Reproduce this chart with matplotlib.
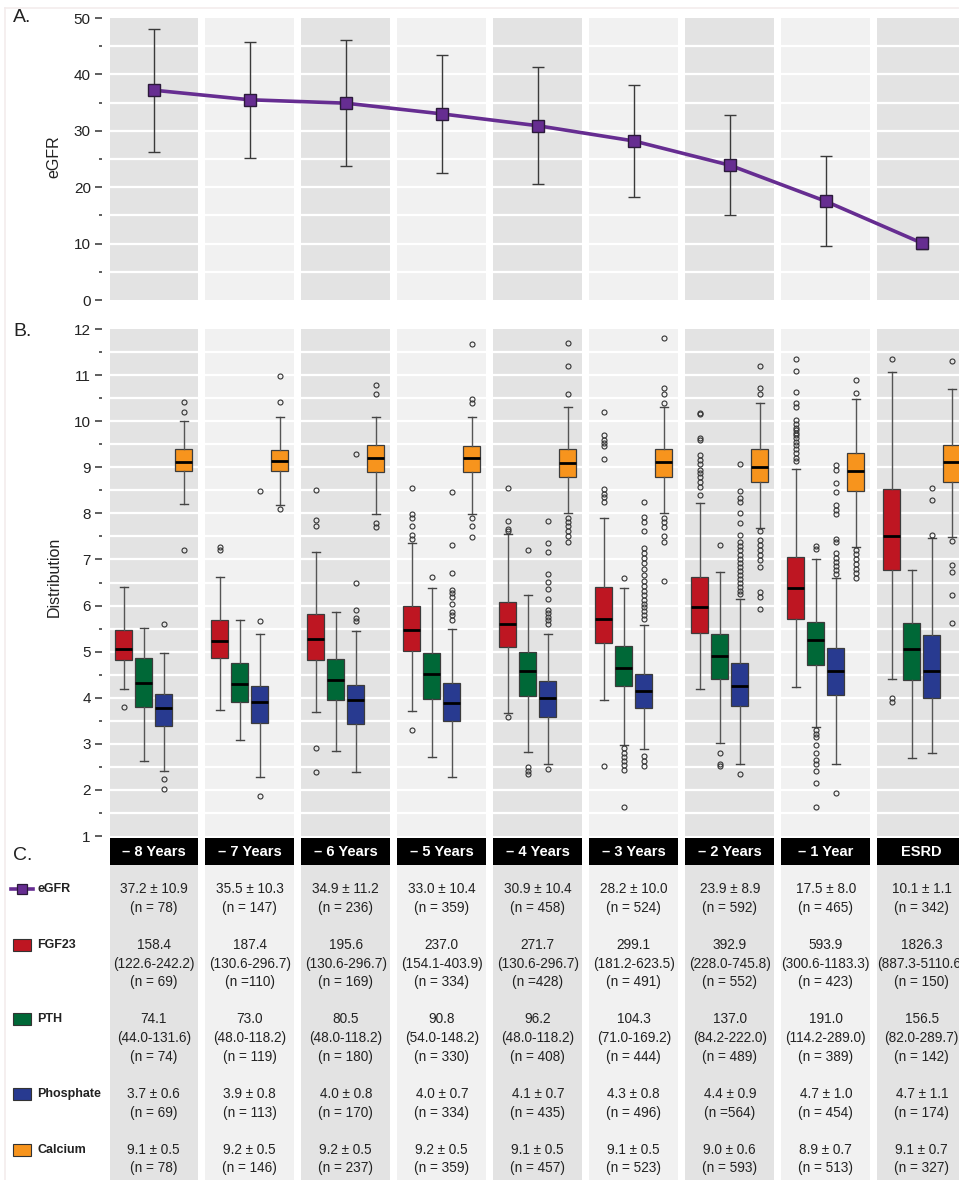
import numpy as np
import matplotlib
matplotlib.use("Agg")
import matplotlib.pyplot as plt
from matplotlib import font_manager
from matplotlib.patches import Rectangle
from matplotlib.lines import Line2D
from matplotlib.transforms import blended_transform_factory

plt.rcParams['font.family'] = ['Liberation Sans', 'DejaVu Sans']

# condensed face for the table cells, if the narrow family is present
installed = {f.name for f in font_manager.fontManager.ttflist}
if 'Liberation Sans Narrow' in installed:
    CELL_FONT, CELL_SIZE, LABEL_SIZE = ['Liberation Sans Narrow', 'Liberation Sans'], 11.5, 11
else:
    CELL_FONT, CELL_SIZE, LABEL_SIZE = ['Liberation Sans', 'DejaVu Sans'], 9.8, 9

# ---- data ----
years = ['– 8 Years', '– 7 Years', '– 6 Years', '– 5 Years', '– 4 Years',
         '– 3 Years', '– 2 Years', '– 1 Year', 'ESRD']

egfr_mean = [37.2, 35.5, 34.9, 33.0, 30.9, 28.2, 23.9, 17.5, 10.1]
egfr_sd = [10.9, 10.3, 11.2, 10.4, 10.4, 10.0, 8.9, 8.0, 1.1]
egfr_n = ['(n = 78)', '(n = 147)', '(n = 236)', '(n = 359)', '(n = 458)',
          '(n = 524)', '(n = 592)', '(n = 465)', '(n = 342)']

fgf23_med = ['158.4', '187.4', '195.6', '237.0', '271.7', '299.1', '392.9', '593.9', '1826.3']
fgf23_iqr = ['(122.6-242.2)', '(130.6-296.7)', '(130.6-296.7)', '(154.1-403.9)', '(130.6-296.7)',
             '(181.2-623.5)', '(228.0-745.8)', '(300.6-1183.3)', '(887.3-5110.6)']
fgf23_n = ['(n = 69)', '(n =110)', '(n = 169)', '(n = 334)', '(n =428)',
           '(n = 491)', '(n = 552)', '(n = 423)', '(n = 150)']

pth_med = ['74.1', '73.0', '80.5', '90.8', '96.2', '104.3', '137.0', '191.0', '156.5']
pth_iqr = ['(44.0-131.6)', '(48.0-118.2)', '(48.0-118.2)', '(54.0-148.2)', '(48.0-118.2)',
           '(71.0-169.2)', '(84.2-222.0)', '(114.2-289.0)', '(82.0-289.7)']
pth_n = ['(n = 74)', '(n = 119)', '(n = 180)', '(n = 330)', '(n = 408)',
         '(n = 444)', '(n = 489)', '(n = 389)', '(n = 142)']

phos_mean = ['3.7 ± 0.6', '3.9 ± 0.8', '4.0 ± 0.8', '4.0 ± 0.7', '4.1 ± 0.7',
             '4.3 ± 0.8', '4.4 ± 0.9', '4.7 ± 1.0', '4.7 ± 1.1']
phos_n = ['(n = 69)', '(n = 113)', '(n = 170)', '(n = 334)', '(n = 435)',
          '(n = 496)', '(n =564)', '(n = 454)', '(n = 174)']

ca_mean = ['9.1 ± 0.5', '9.2 ± 0.5', '9.2 ± 0.5', '9.2 ± 0.5', '9.1 ± 0.5',
           '9.1 ± 0.5', '9.0 ± 0.6', '8.9 ± 0.7', '9.1 ± 0.7']
ca_n = ['(n = 78)', '(n = 146)', '(n = 237)', '(n = 359)', '(n = 457)',
        '(n = 523)', '(n = 593)', '(n = 513)', '(n = 327)']

# box stats per year: (whisker low, q1, median, q3, whisker high)
fgf23_box = [(4.20, 4.81, 5.06, 5.47, 6.40), (3.73, 4.87, 5.24, 5.68, 6.63),
             (3.69, 4.81, 5.27, 5.81, 7.16), (3.72, 5.01, 5.46, 5.98, 7.36),
             (3.66, 5.09, 5.60, 6.08, 7.55), (3.95, 5.19, 5.71, 6.41, 7.91),
             (4.18, 5.41, 5.97, 6.61, 8.23), (4.24, 5.70, 6.38, 7.06, 8.97),
             (4.40, 6.78, 7.51, 8.52, 11.06)]
fgf23_out = [[3.80], [7.20, 7.28], [8.50, 7.85, 7.73, 2.90, 2.38],
             [8.54, 7.99, 7.91, 7.72, 7.52, 7.45, 3.31],
             [8.54, 7.83, 7.67, 7.62, 3.58],
             [10.19, 9.71, 9.59, 9.52, 9.46, 9.18, 8.52, 8.43, 8.35, 8.25, 2.52],
             [10.18, 10.15, 9.63, 9.59, 9.26, 9.16, 9.07, 8.95, 8.87, 8.78, 8.69, 8.58, 8.40],
             [11.35, 11.09, 10.64, 10.39, 10.30, 10.02, 9.94, 9.86, 9.81, 9.75, 9.70,
              9.63, 9.55, 9.48, 9.39, 9.30, 9.21, 9.13],
             [11.35, 3.99, 3.91]]

pth_box = [(2.63, 3.79, 4.31, 4.86, 5.52), (3.09, 3.90, 4.29, 4.76, 5.69),
           (2.84, 3.94, 4.39, 4.85, 5.85), (2.71, 3.98, 4.51, 4.98, 6.38),
           (2.82, 4.04, 4.58, 5.00, 6.23), (2.98, 4.25, 4.65, 5.12, 6.38),
           (3.02, 4.41, 4.91, 5.38, 6.72), (3.37, 4.72, 5.25, 5.65, 7.00),
           (2.70, 4.39, 5.05, 5.63, 6.78)]
pth_out = [[], [], [], [6.63], [7.20, 2.50, 2.41, 2.34],
           [6.60, 2.90, 2.81, 2.72, 2.63, 2.53, 2.44, 1.63],
           [7.31, 2.79, 2.57, 2.52],
           [7.29, 7.22, 3.31, 3.22, 3.15, 2.97, 2.79, 2.64, 2.57, 2.41, 2.15, 1.63],
           []]

phos_box = [(2.40, 3.39, 3.77, 4.09, 4.98), (2.29, 3.45, 3.90, 4.25, 5.39),
            (2.39, 3.44, 3.95, 4.28, 5.45), (2.28, 3.49, 3.89, 4.31, 5.50),
            (2.57, 3.58, 4.00, 4.37, 5.39), (2.88, 3.78, 4.15, 4.51, 5.57),
            (2.57, 3.82, 4.26, 4.76, 6.15), (2.56, 4.07, 4.58, 5.08, 6.60),
            (2.80, 4.00, 4.59, 5.37, 7.47)]
phos_out = [[5.60, 2.24, 2.03], [8.48, 5.67, 1.86], [9.28, 6.48, 5.90, 5.73, 5.66],
            [8.46, 7.31, 6.71, 6.33, 6.27, 6.19, 6.04, 5.87, 5.79, 5.69],
            [7.83, 7.35, 7.17, 6.68, 6.51, 6.35, 6.15, 5.90, 5.83, 5.75, 5.68, 5.61, 2.45],
            [8.24, 7.93, 7.82, 7.61, 7.24, 7.14, 7.04, 6.93, 6.80, 6.66, 6.54, 6.42,
             6.32, 6.23, 6.13, 6.04, 5.96, 5.88, 5.80, 5.71, 2.73, 2.63, 2.51],
            [9.07, 8.48, 8.34, 8.25, 8.00, 7.80, 7.54, 7.38, 7.29, 7.20, 7.09, 7.00,
             6.93, 6.84, 6.75, 6.66, 6.57, 6.48, 6.41, 6.32, 6.25, 2.34],
            [9.05, 8.95, 8.65, 8.47, 8.18, 8.08, 7.98, 7.45, 7.38, 7.13, 7.04, 6.95,
             6.85, 6.77, 6.68, 1.93],
            [8.54, 8.29, 7.54]]

ca_box = [(8.20, 8.91, 9.12, 9.39, 10.00), (8.18, 8.91, 9.13, 9.38, 10.10),
          (7.99, 8.89, 9.21, 9.48, 10.09), (7.99, 8.89, 9.21, 9.47, 10.09),
          (8.00, 8.79, 9.10, 9.39, 10.30), (8.00, 8.79, 9.11, 9.39, 10.30),
          (7.69, 8.69, 9.01, 9.39, 10.40), (7.27, 8.48, 8.91, 9.30, 10.49),
          (7.49, 8.69, 9.11, 9.48, 10.70)]
ca_out = [[10.42, 10.20, 7.20], [10.98, 10.42, 8.10], [10.79, 10.60, 7.80, 7.70],
          [11.68, 10.49, 10.39, 7.91, 7.72, 7.49],
          [11.69, 11.20, 10.60, 7.91, 7.82, 7.72, 7.62, 7.51, 7.38],
          [11.80, 10.71, 10.60, 10.40, 7.91, 7.82, 7.71, 7.51, 7.38, 6.53],
          [11.20, 10.71, 10.60, 7.61, 7.42, 7.32, 7.20, 7.09, 6.98, 6.83, 6.30, 6.19, 5.93],
          [10.89, 10.62, 7.20, 7.12, 7.02, 6.91, 6.80, 6.70, 6.60],
          [11.31, 7.40, 6.88, 6.73, 6.22, 5.62]]

# ---- styling ----
W, H = 959, 1180
PURPLE = '#662d91'
RED, GREEN, BLUE, ORANGE = '#be1622', '#006837', '#283a90', '#f7941d'
SHADES = ['#e3e3e3', '#f1f1f1']
COLW = 0.927
x = np.arange(len(years))
x0 = (110 - 153.8) / 96
x1 = (W - 153.8) / 96


def fx(px):
    return px / W


def fy(py):
    return 1 - py / H


fig = plt.figure(figsize=(W / 100, H / 100), dpi=100)

# faint outer frame
fig.add_artist(Line2D([fx(5), 1], [fy(8), fy(8)], color='#f3ecec', lw=1.2))
fig.add_artist(Line2D([fx(5), fx(5)], [0, fy(8)], color='#f3ecec', lw=1.2))


def style_axis(ax, lo, hi, major, minor):
    ax.set_xlim(x0, x1)
    ax.set_ylim(lo, hi)
    ax.set_xticks([])
    for s in ax.spines.values():
        s.set_visible(False)
    ax.spines['left'].set_position(('outward', 5.8))
    ax.set_yticks(major)
    ax.set_yticks(minor, minor=True)
    ax.tick_params(axis='y', which='major', length=5, width=1.1, color='#333333',
                   labelsize=11, labelcolor='#222222', pad=3)
    ax.tick_params(axis='y', which='minor', length=2.2, width=1.1, color='#333333')
    for i in x:
        ax.bar(i, hi - lo, bottom=lo, width=COLW, color=SHADES[i % 2], zorder=0)
    for g in minor + major[1:-1]:
        ax.axhline(g, color='white', lw=1.6, zorder=1)


# ---- panel A: eGFR trend ----
axA = fig.add_axes([fx(110), fy(300), 1 - fx(110), (300 - 18) / H])
style_axis(axA, 0, 50, list(range(0, 51, 10)), list(range(5, 50, 10)))
axA.errorbar(x, egfr_mean, yerr=egfr_sd, color=PURPLE, lw=2.6, marker='s', ms=8,
             mfc=PURPLE, mec='#2b1a3a', mew=1.0, ecolor='#3a3a3a', elinewidth=1.0,
             capsize=4, capthick=1.0, zorder=3)

# ---- panel B: distributions ----
axB = fig.add_axes([fx(110), fy(836), 1 - fx(110), (836 - 329) / H])
style_axis(axB, 1, 12, list(range(1, 13)), list(np.arange(1.5, 12, 1.0)))

series = [(fgf23_box, fgf23_out, RED, -0.3125), (pth_box, pth_out, GREEN, -0.104),
          (phos_box, phos_out, BLUE, 0.104), (ca_box, ca_out, ORANGE, 0.3125)]
for boxes, outs, col, off in series:
    stats = [dict(whislo=b[0], q1=b[1], med=b[2], q3=b[3], whishi=b[4], fliers=o)
             for b, o in zip(boxes, outs)]
    axB.bxp(stats, positions=x + off, widths=0.177, patch_artist=True,
            showfliers=True, manage_ticks=False,
            boxprops=dict(facecolor=col, edgecolor='#3c3c3c', lw=0.9),
            whiskerprops=dict(color='#555555', lw=1.0),
            capprops=dict(color='#444444', lw=1.0),
            medianprops=dict(color='black', lw=2.0),
            flierprops=dict(marker='o', ms=3.6, mfc='none', mec='#333333', mew=0.8),
            zorder=3)

# ---- panel C: summary table ----
axC = fig.add_axes([fx(110), 0, 1 - fx(110), (H - 838) / H])
axC.set_xlim(x0, x1)
axC.set_ylim(H, 838)
axC.axis('off')
for i in x:
    axC.bar(i, H - 865, bottom=865, width=COLW, color=SHADES[i % 2], zorder=0)
    axC.bar(i, 865 - 838, bottom=838, width=COLW, color='black', zorder=1)
    axC.text(i, 851.5, years[i], ha='center', va='center', color='white',
             fontsize=10.5, fontweight='bold', zorder=2)

egfr_txt = [f'{m:.1f} ± {s:.1f}' for m, s in zip(egfr_mean, egfr_sd)]
rows = [('eGFR', PURPLE, [egfr_txt, egfr_n], [889, 908]),
        ('FGF23', RED, [fgf23_med, fgf23_iqr, fgf23_n], [945, 964, 982]),
        ('PTH', GREEN, [pth_med, pth_iqr, pth_n], [1019, 1038, 1057]),
        ('Phosphate', BLUE, [phos_mean, phos_n], [1094, 1113]),
        ('Calcium', ORANGE, [ca_mean, ca_n], [1150, 1168])]

lab = blended_transform_factory(fig.transFigure, axC.transData)
for name, col, cols, ys in rows:
    for lines, yy in zip(cols, ys):
        for i in x:
            axC.text(i, yy, lines[i], ha='center', va='center', fontsize=CELL_SIZE,
                     family=CELL_FONT, color='#222222', clip_on=False)
    axC.text(fx(37), ys[0], name, transform=lab, ha='left', va='center',
             fontsize=LABEL_SIZE, family=CELL_FONT, fontweight='bold', color='#222222')
    if name == 'eGFR':
        axC.plot([fx(11), fx(33)], [ys[0], ys[0]], transform=lab, color=PURPLE,
                 lw=2.6, clip_on=False)
        axC.plot([fx(22)], [ys[0]], transform=lab, marker='s', ms=7, mfc=PURPLE,
                 mec='#2b1a3a', mew=0.9, clip_on=False)
    else:
        axC.add_patch(Rectangle((fx(13), ys[0] - 6), fx(18), 12, transform=lab,
                                facecolor=col, edgecolor='#333333', lw=0.8,
                                clip_on=False))

# panel letters and axis titles
fig.text(fx(13), fy(18), 'A.', fontsize=14, va='center', ha='left', color='#222222')
fig.text(fx(13), fy(332), 'B.', fontsize=14, va='center', ha='left', color='#222222')
fig.text(fx(13), fy(855), 'C.', fontsize=14, va='center', ha='left', color='#222222')
fig.text(fx(54), fy(157), 'eGFR', rotation=90, fontsize=11.5, va='center',
         ha='center', color='#222222')
fig.text(fx(54), fy(577), 'Distribution', rotation=90, fontsize=11.5, va='center',
         ha='center', color='#222222')

fig.savefig('out.png', dpi=100)
